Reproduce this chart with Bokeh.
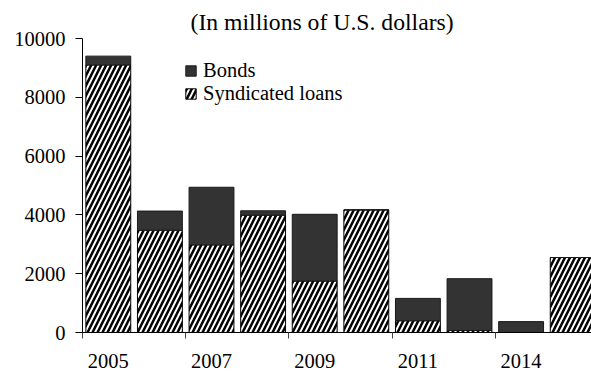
from bokeh.plotting import figure
from bokeh.models import ColumnDataSource, FixedTicker, Legend, LegendItem, Range1d
from bokeh.transform import stack
from bokeh.embed import file_html
from bokeh.resources import INLINE

# ---- data ----
bar_pos = [0, 1, 2, 3, 4, 5, 6, 7, 8, 9]
syndicated = [9100, 3480, 2980, 3990, 1750, 4170, 400, 70, 0, 2550]
bonds = [300, 650, 1960, 150, 2270, 0, 760, 1760, 370, 0]
label_pos = [0, 2, 4, 6, 8]
tick_labels = ["2005", "2007", "2009", "2011", "2014"]
boundary_ticks = [-0.5, 1.5, 3.5, 5.5, 7.5]
y_ticks = [0, 2000, 4000, 6000, 8000, 10000]
title_text = "(In millions of U.S. dollars)"

FONT = "Liberation Serif"

source = ColumnDataSource(dict(x=bar_pos, synd=syndicated, bonds=bonds))

p = figure(width=591, height=371, output_backend="svg", toolbar_location=None,
           x_range=Range1d(-0.5, 9.364), y_range=Range1d(0, 10000),
           min_border_left=82, min_border_right=0, min_border_top=38,
           min_border_bottom=39, title=title_text)
p.outline_line_color = None
p.background_fill_color = "white"
p.border_fill_color = "white"

# title
p.title.text_font = FONT
p.title.text_font_size = "23.7px"
p.title.text_font_style = "normal"
p.title.align = "left"
p.title.offset = 108
p.title.standoff = 8
p.title.text_color = "black"

r_synd = p.vbar(x="x", bottom=stack(), top=stack("synd"), width=0.87, source=source,
                fill_color="white", hatch_pattern="/", hatch_color="black",
                hatch_scale=10, hatch_weight=2.5, line_color="black", line_width=1)
r_bonds = p.vbar(x="x", bottom=stack("synd"), top=stack("synd", "bonds"), width=0.87,
                 source=source, fill_color="#333333", line_color="#1a1a1a", line_width=1)

# axes
xa = p.xaxis[0]
xa.ticker = FixedTicker(ticks=label_pos, minor_ticks=boundary_ticks)
xa.major_label_overrides = {pos: lab for pos, lab in zip(label_pos, tick_labels)}
xa.major_tick_out = 0
xa.major_tick_in = 0
xa.minor_tick_out = 6
xa.minor_tick_in = 0
xa.minor_tick_line_color = "#444444"
xa.axis_line_color = "black"
xa.major_label_text_font = FONT
xa.major_label_text_font_size = "20.5px"
xa.major_label_text_color = "black"
xa.major_label_standoff = 15

ya = p.yaxis[0]
ya.ticker = FixedTicker(ticks=y_ticks, minor_ticks=[])
ya.major_tick_out = 7
ya.major_tick_in = 0
ya.minor_tick_out = 0
ya.minor_tick_in = 0
ya.axis_line_color = "black"
ya.major_tick_line_color = "black"
ya.major_label_text_font = FONT
ya.major_label_text_font_size = "20.5px"
ya.major_label_text_color = "black"
ya.major_label_standoff = 10

p.xgrid.visible = False
p.ygrid.ticker = FixedTicker(ticks=[10000])
p.ygrid.grid_line_color = "black"
p.ygrid.grid_line_alpha = 1.0

legend = Legend(items=[LegendItem(label="Bonds", renderers=[r_bonds]),
                       LegendItem(label="Syndicated loans", renderers=[r_synd])],
                location=(102, 227))
legend.border_line_color = None
legend.background_fill_alpha = 0
legend.padding = 0
legend.margin = 0
legend.spacing = 0
legend.glyph_width = 13
legend.glyph_height = 13
legend.label_standoff = 6
legend.label_text_font = FONT
legend.label_text_font_size = "20.5px"
legend.label_text_color = "black"
p.add_layout(legend)

open("out.html", "w").write(file_html(p, INLINE))
